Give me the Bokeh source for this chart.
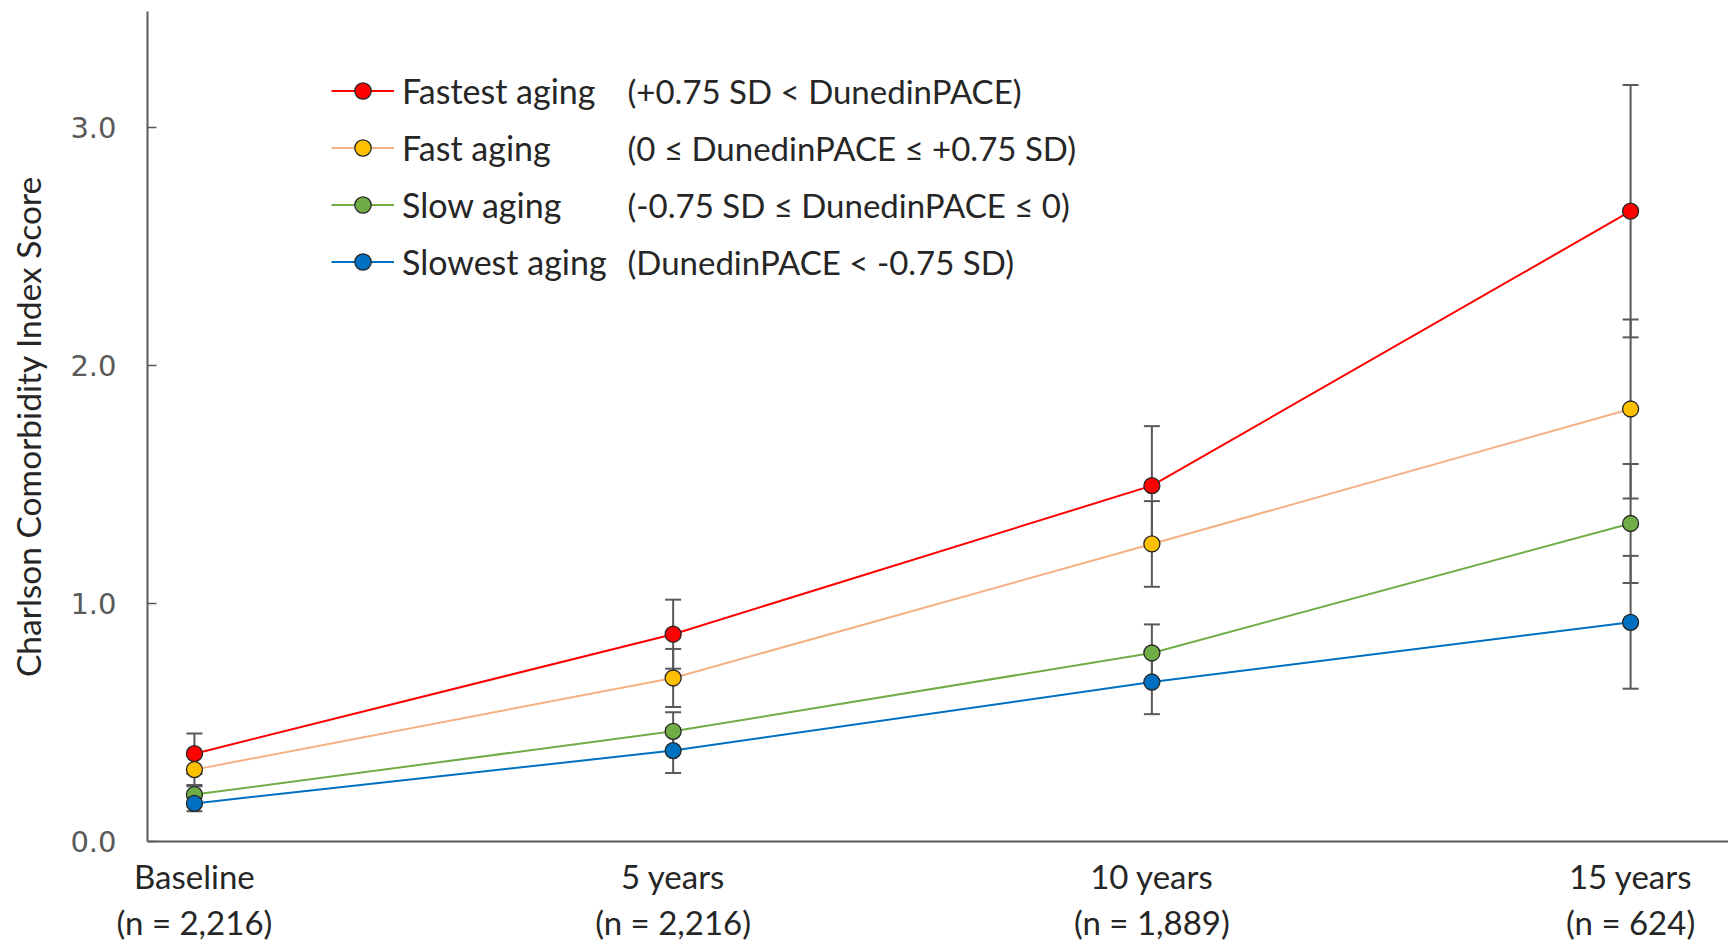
from bokeh.plotting import figure
from bokeh.models import (FixedTicker, Legend, LegendItem, Label, Whisker,
                          TeeHead, ColumnDataSource, Range1d, PrintfTickFormatter)
from bokeh.embed import file_html
from bokeh.resources import INLINE

# ---------------- data ----------------
timepoints = ["Baseline", "5 years", "10 years", "15 years"]
sample_sizes = ["(n = 2,216)", "(n = 2,216)", "(n = 1,889)", "(n = 624)"]

groups = ["Fastest aging", "Fast aging", "Slow aging", "Slowest aging"]
group_defs = ["(+0.75 SD < DunedinPACE)",
              "(0 \u2264 DunedinPACE \u2264 +0.75 SD)",
              "(-0.75 SD \u2264 DunedinPACE \u2264 0)",
              "(DunedinPACE < -0.75 SD)"]

fastest_mean = [0.369, 0.871, 1.495, 2.648]
fastest_ci = [0.085, 0.145, 0.250, 0.530]
fast_mean = [0.302, 0.687, 1.250, 1.817]
fast_ci = [0.065, 0.122, 0.180, 0.376]
slow_mean = [0.197, 0.463, 0.792, 1.336]
slow_ci = [0.035, 0.080, 0.120, 0.250]
slowest_mean = [0.160, 0.382, 0.670, 0.921]
slowest_ci = [0.033, 0.094, 0.135, 0.279]

means = [fastest_mean, fast_mean, slow_mean, slowest_mean]
cis = [fastest_ci, fast_ci, slow_ci, slowest_ci]
line_colors = ["#FF0000", "#F4B183", "#70AD47", "#0070C0"]
marker_colors = ["#FF0000", "#FFC000", "#70AD47", "#0070C0"]

# ---------------- figure ----------------
TXT = "#262626"
AX = "#595959"

p = figure(width=1728, height=944, output_backend="svg", toolbar_location=None,
           x_range=Range1d(-0.098, 3.2045), y_range=Range1d(0, 3.487),
           min_border_left=147, min_border_right=0, min_border_top=11, min_border_bottom=102)
p.outline_line_color = None
p.xgrid.visible = False
p.ygrid.visible = False

xs = list(range(len(timepoints)))

# error bars
for m, c in zip(means, cis):
    src = ColumnDataSource(dict(x=xs,
                                upper=[a + b for a, b in zip(m, c)],
                                lower=[a - b for a, b in zip(m, c)]))
    w = Whisker(source=src, base="x", upper="upper", lower="lower",
                line_color=AX, line_width=2, level="underlay",
                upper_head=TeeHead(size=16, line_color=AX, line_width=2),
                lower_head=TeeHead(size=16, line_color=AX, line_width=2))
    p.add_layout(w)

items = []
for name, m, lc, mc in zip(groups, means, line_colors, marker_colors):
    src = ColumnDataSource(dict(x=xs, y=m))
    ln = p.line("x", "y", source=src, line_color=lc, line_width=2)
    sc = p.scatter("x", "y", source=src, size=16, fill_color=mc,
                   line_color="#262626", line_width=1.3)
    items.append(LegendItem(label=name, renderers=[ln, sc]))

# y axis
ya = p.yaxis[0]
ya.ticker = FixedTicker(ticks=[0, 1, 2, 3])
ya.formatter = PrintfTickFormatter(format="%.1f")
ya.major_tick_in = 9
ya.major_tick_out = 0
ya.minor_tick_line_color = None
ya.major_tick_line_color = AX
ya.major_tick_line_width = 1.5
ya.axis_line_color = AX
ya.axis_line_width = 2
ya.major_label_text_font = "DejaVu Sans"
ya.major_label_text_font_size = "29px"
ya.major_label_text_color = AX
ya.major_label_standoff = 31
ya.axis_label = "Charlson Comorbidity Index Score"
ya.axis_label_text_font = "Lato"
ya.axis_label_text_font_size = "33.5px"
ya.axis_label_text_font_style = "normal"
ya.axis_label_text_color = TXT
ya.axis_label_standoff = 19

# x axis: two-line category labels
xa = p.xaxis[0]
xa.ticker = FixedTicker(ticks=xs)
xa.major_label_overrides = {i: f"{t}\n{n}" for i, t, n in zip(xs, timepoints, sample_sizes)}
xa.major_tick_line_color = None
xa.minor_tick_line_color = None
xa.axis_line_color = AX
xa.axis_line_width = 2
xa.major_label_text_font = "Lato"
xa.major_label_text_font_size = "33px"
xa.major_label_text_color = TXT
xa.major_label_text_line_height = 1.15
xa.major_label_standoff = 8

# legend
legend = Legend(items=items, location=(184, 559), border_line_color=None,
                background_fill_alpha=0, padding=0, margin=0, spacing=16,
                glyph_width=63, glyph_height=41, label_height=41, label_standoff=8,
                label_text_font="Lato", label_text_font_size="34px",
                label_text_color=TXT, label_text_baseline="middle")
p.add_layout(legend)

row_y = [750.4, 693.4, 636.4, 579.4]
for txt, yy in zip(group_defs, row_y):
    p.add_layout(Label(x=480, y=yy, x_units="screen", y_units="screen", text=txt,
                       text_font="Lato", text_font_size="33px", text_color=TXT,
                       text_baseline="middle"))

open("out.html", "w").write(file_html(p, INLINE))
